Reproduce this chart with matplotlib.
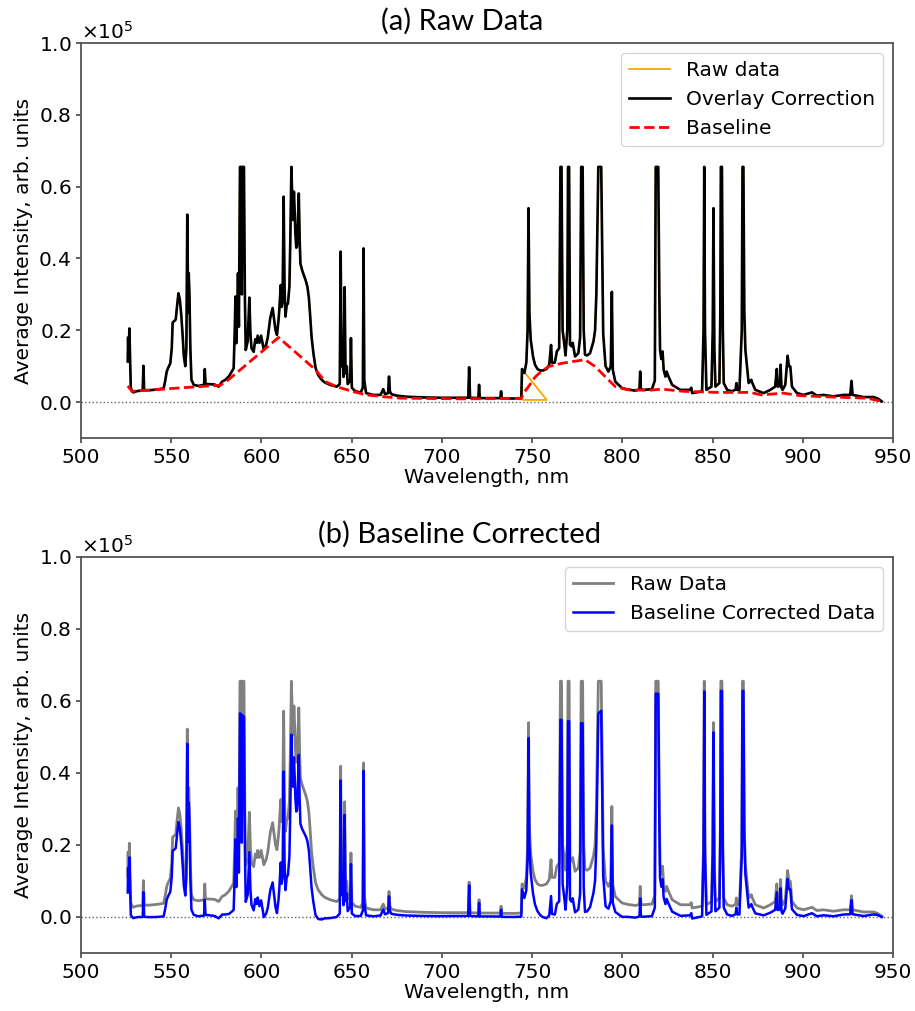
import numpy as np
import matplotlib
matplotlib.use('Agg')
import matplotlib.pyplot as plt

# spectrum after overlay correction (wavelength in nm, intensity in 1e5 counts)
wl = [525.9, 526.1, 526.4, 526.8, 527.2, 527.6, 528.3, 529.0, 530.0, 531.5,
      534.2, 534.6, 535.0, 538.0, 542.0, 545.8, 546.7, 547.5, 548.2, 549.5,
      550.3, 550.8, 551.8, 552.5, 553.2, 554.0, 554.8, 555.6, 556.4, 557.0,
      557.8, 558.4, 558.9, 559.4, 559.7, 560.1, 560.6, 561.2, 562.5, 565.0,
      568.2, 568.6, 569.0, 571.0, 574.0, 576.3, 578.2, 580.0, 582.0, 584.6,
      585.2, 585.6, 586.1, 586.6, 587.0, 587.5, 588.1, 588.7, 589.1, 589.5,
      590.3, 590.8, 591.3, 592.4, 593.3, 593.9, 594.5, 595.7, 596.6, 597.4,
      597.9, 598.9, 599.8, 600.6, 601.3, 602.6, 603.5, 604.9, 606.2, 607.0,
      607.8, 608.6, 609.5, 609.9, 610.7, 611.2, 611.7, 612.3, 612.8, 613.3,
      614.0, 614.7, 615.5, 616.0, 616.6, 617.1, 617.5, 618.0, 618.5, 618.8,
      619.3, 619.7, 620.2, 620.7, 621.2, 621.6, 622.5, 623.4, 624.7, 625.5,
      626.3, 626.9, 627.8, 628.8, 630.0, 631.5, 633.4, 635.0, 638.0, 641.7,
      643.4, 643.9, 644.4, 645.0, 645.5, 646.1, 646.6, 647.3, 647.8, 649.2,
      649.6, 650.1, 652.0, 655.0, 656.2, 656.6, 657.0, 658.0, 662.0, 666.0,
      667.5, 668.5, 670.2, 670.7, 671.2, 672.0, 675.0, 680.0, 690.0, 700.0,
      706.0, 714.6, 715.1, 715.6, 720.2, 720.6, 721.0, 727.0, 732.4, 732.8,
      733.2, 740.0, 744.0, 744.4, 745.7, 746.8, 747.5, 748.0, 748.5, 749.2,
      750.5, 751.6, 753.0, 754.4, 756.0, 758.0, 759.5, 760.5, 761.0, 762.6,
      763.7, 765.0, 765.7, 766.3, 766.9, 768.0, 768.5, 769.5, 769.9, 770.5,
      771.0, 771.9, 772.5, 773.8, 775.6, 776.6, 777.2, 778.0, 778.6, 779.3,
      780.5, 782.1, 784.0, 784.9, 785.6, 786.2, 786.7, 788.3, 788.9, 789.4,
      790.7, 792.3, 793.6, 794.2, 794.7, 796.1, 799.8, 803.0, 807.2, 809.5,
      809.9, 810.3, 811.8, 816.4, 818.0, 818.5, 819.9, 820.5, 820.9, 821.6,
      822.3, 822.9, 823.9, 824.6, 825.2, 827.6, 832.2, 837.5, 838.2, 838.7,
      844.2, 845.0, 845.4, 845.8, 846.6, 849.4, 850.1, 850.5, 851.0, 851.6,
      853.8, 854.3, 854.6, 855.2, 855.7, 856.2, 858.1, 860.8, 862.8, 863.2,
      863.7, 864.9, 866.2, 866.6, 867.1, 867.6, 868.2, 869.1, 870.0, 871.5,
      871.9, 873.7, 878.3, 882.0, 884.7, 885.6, 886.1, 887.3, 887.7, 888.2,
      888.8, 890.3, 891.6, 892.3, 893.1, 894.0, 896.8, 900.5, 905.1, 907.8,
      911.5, 917.0, 922.6, 926.3, 927.0, 927.6, 933.7, 939.2, 941.5, 943.8]
intensity = [0.113, 0.180, 0.120, 0.205, 0.120, 0.040, 0.030, 0.027, 0.029, 0.031,
             0.032, 0.101, 0.033, 0.033, 0.035, 0.038, 0.060, 0.085, 0.094, 0.108,
             0.150, 0.222, 0.226, 0.230, 0.266, 0.303, 0.285, 0.240, 0.180, 0.127,
             0.100, 0.150, 0.522, 0.250, 0.359, 0.300, 0.150, 0.062, 0.048, 0.045,
             0.048, 0.092, 0.050, 0.050, 0.049, 0.043, 0.057, 0.062, 0.072, 0.094,
             0.200, 0.294, 0.164, 0.250, 0.359, 0.210, 0.655, 0.655, 0.300, 0.655,
             0.655, 0.300, 0.145, 0.170, 0.291, 0.190, 0.150, 0.140, 0.175, 0.165,
             0.185, 0.165, 0.185, 0.165, 0.145, 0.160, 0.180, 0.235, 0.262, 0.230,
             0.200, 0.187, 0.230, 0.257, 0.326, 0.265, 0.280, 0.572, 0.320, 0.238,
             0.270, 0.275, 0.322, 0.450, 0.655, 0.560, 0.507, 0.586, 0.520, 0.470,
             0.430, 0.433, 0.500, 0.581, 0.450, 0.386, 0.368, 0.355, 0.336, 0.320,
             0.290, 0.248, 0.180, 0.136, 0.095, 0.075, 0.062, 0.055, 0.048, 0.043,
             0.050, 0.419, 0.100, 0.130, 0.070, 0.320, 0.080, 0.100, 0.050, 0.060,
             0.178, 0.040, 0.030, 0.027, 0.040, 0.428, 0.060, 0.025, 0.020, 0.020,
             0.036, 0.022, 0.025, 0.071, 0.030, 0.022, 0.018, 0.015, 0.013, 0.012,
             0.012, 0.012, 0.097, 0.012, 0.011, 0.048, 0.011, 0.011, 0.011, 0.030,
             0.010, 0.010, 0.011, 0.092, 0.081, 0.110, 0.200, 0.540, 0.250, 0.175,
             0.127, 0.104, 0.092, 0.088, 0.088, 0.092, 0.104, 0.159, 0.110, 0.110,
             0.141, 0.150, 0.655, 0.655, 0.200, 0.155, 0.130, 0.200, 0.655, 0.655,
             0.160, 0.155, 0.165, 0.127, 0.136, 0.180, 0.655, 0.655, 0.200, 0.132,
             0.130, 0.136, 0.169, 0.200, 0.300, 0.500, 0.655, 0.655, 0.400, 0.190,
             0.100, 0.085, 0.100, 0.307, 0.090, 0.057, 0.039, 0.035, 0.032, 0.035,
             0.085, 0.035, 0.034, 0.036, 0.060, 0.655, 0.655, 0.300, 0.145, 0.120,
             0.141, 0.090, 0.071, 0.085, 0.076, 0.048, 0.034, 0.034, 0.040, 0.025,
             0.030, 0.200, 0.655, 0.200, 0.034, 0.043, 0.200, 0.540, 0.150, 0.043,
             0.053, 0.250, 0.655, 0.655, 0.200, 0.053, 0.034, 0.030, 0.035, 0.053,
             0.034, 0.034, 0.200, 0.655, 0.655, 0.250, 0.145, 0.099, 0.053, 0.062,
             0.055, 0.034, 0.025, 0.034, 0.043, 0.092, 0.043, 0.045, 0.104, 0.040,
             0.034, 0.048, 0.129, 0.100, 0.099, 0.043, 0.025, 0.020, 0.027, 0.018,
             0.020, 0.016, 0.020, 0.020, 0.059, 0.020, 0.014, 0.014, 0.010, 0.002]

# raw data: where the two detector channels overlap (inserted after 744.4 nm)
overlap_wl = [746.1, 758.1, 744.5, 744.5]
overlap_int = [0.081, 0.006, 0.006, 0.092]

# baseline anchor points
base_wl = [525.9, 528.3, 545.0, 565.0, 577.0, 580.0, 609.5, 630.0, 635.3, 641.7,
           650.9, 658.3, 667.6, 676.8, 710.0, 744.0, 745.2, 748.0, 751.7, 755.0,
           759.1, 766.5, 773.8, 779.4, 784.9, 790.5, 796.1, 803.5, 815.0, 822.0,
           833.8, 852.3, 870.7, 877.2, 889.2, 898.4, 917.0, 935.5, 943.8]
base_int = [0.045, 0.030, 0.036, 0.043, 0.047, 0.055, 0.180, 0.090, 0.057, 0.043,
            0.029, 0.020, 0.015, 0.011, 0.009, 0.010, 0.025, 0.043, 0.070, 0.085,
            0.099, 0.108, 0.114, 0.118, 0.099, 0.071, 0.043, 0.034, 0.033, 0.036,
            0.030, 0.027, 0.027, 0.020, 0.025, 0.018, 0.014, 0.011, 0.002]

SCALE = 1e5
wl = np.array(wl)
spec = np.array(intensity) * SCALE
base_wl = np.array(base_wl)
base = np.array(base_int) * SCALE

k = int(np.searchsorted(wl, 744.4)) + 1
raw_wl = np.concatenate([wl[:k], overlap_wl, wl[k:]])
raw = np.concatenate([spec[:k], np.array(overlap_int) * SCALE, spec[k:]])

corrected = spec - np.interp(wl, base_wl, base)

plt.rcParams['font.size'] = 14.5

fig = plt.figure(figsize=(9.15, 10.11), dpi=100)
ax1 = fig.add_axes([81/915, 1 - 438/1011, 812/915, 395/1011])
ax2 = fig.add_axes([81/915, 1 - 953/1011, 812/915, 396/1011])

ax1.plot(raw_wl, raw, color='orange', lw=1.3, label='Raw data')
ax1.plot(wl, spec, color='black', lw=1.9, label='Overlay Correction')
ax1.plot(base_wl, base, color='red', ls='--', lw=2, label='Baseline')

ax2.plot(wl, spec, color='gray', lw=2, label='Raw Data')
ax2.plot(wl, corrected, color='blue', lw=1.8, label='Baseline Corrected Data')

for ax in (ax1, ax2):
    ax.axhline(0, color='#666666', ls=':', lw=1, zorder=0)
    ax.set_xlim(500, 950)
    ax.set_ylim(-0.1e5, 1.0e5)
    ax.set_xticks(np.arange(500, 951, 50))
    ax.set_yticks(np.arange(0, 1.01e5, 0.2e5))
    ax.ticklabel_format(axis='y', style='sci', scilimits=(0, 0), useMathText=True)
    ax.set_xlabel('Wavelength, nm', labelpad=1)
    ax.set_ylabel('Average Intensity, arb. units')
    for s in ax.spines.values():
        s.set_color('#555555')
        s.set_linewidth(1.3)
    ax.tick_params(color='#555555', width=1.3)
    ax.legend(loc='upper right')

fig.text(462/915, 1 - 21/1011, '(a) Raw Data', ha='center', va='center',
         fontsize=21, family='Lato')
fig.text(460/915, 1 - 534/1011, '(b) Baseline Corrected', ha='center', va='center',
         fontsize=21, family='Lato')

fig.savefig('out.png', dpi=100)
